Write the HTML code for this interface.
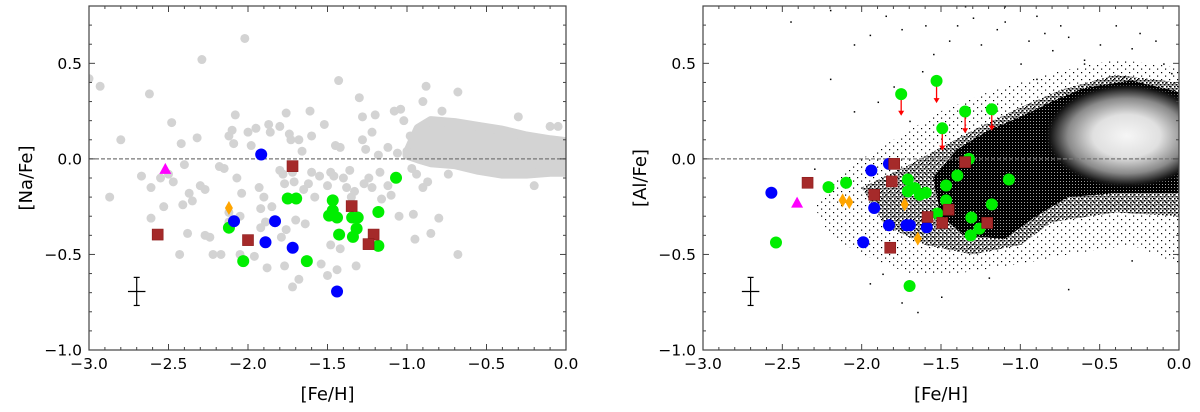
<!DOCTYPE html>
<html><head><meta charset="utf-8"><style>
body{margin:0;background:#fff;}
svg text{font-family:"DejaVu Sans","Liberation Sans",sans-serif;fill:#000;}
</style></head><body>
<svg id="fig" width="1200" height="407" viewBox="0 0 1200 407" xmlns="http://www.w3.org/2000/svg">
<defs>
<pattern id="sparse" width="8" height="7" patternUnits="userSpaceOnUse"><rect x="1" y="2" width="1.2" height="1.2" fill="#000"/><rect x="5" y="5.5" width="1.2" height="1.2" fill="#000"/></pattern>
<pattern id="mid" width="4" height="4" patternUnits="userSpaceOnUse"><rect x="0" y="0" width="1.6" height="1.6" fill="#000"/><rect x="2" y="2" width="1.6" height="1.6" fill="#000"/><rect x="2.5" y="0.3" width="1.2" height="1.2" fill="#000"/></pattern>
<pattern id="core" width="3" height="3" patternUnits="userSpaceOnUse"><rect width="3" height="3" fill="#000"/><rect x="1" y="1" width="0.8" height="0.8" fill="#fff"/></pattern>
<radialGradient id="cloud"><stop offset="0" stop-color="#f6f6f6"/><stop offset="0.4" stop-color="#e0e0e0"/><stop offset="0.7" stop-color="#8a8a8a"/><stop offset="0.9" stop-color="#1a1a1a"/><stop offset="1" stop-color="#000" stop-opacity="0"/></radialGradient>
<clipPath id="clipL"><rect x="89" y="6" width="477" height="344"/></clipPath>
<clipPath id="clipR"><rect x="703" y="6" width="476" height="344"/></clipPath>
</defs>
<g id="L" clip-path="url(#clipL)"></g>
<g id="R" clip-path="url(#clipR)"></g>
<g id="axes"></g>
</svg>
<script>
// ---- data ----
const grayX=[-3.0,-2.93,-2.8,-2.87,-2.67,-2.62,-2.61,-2.61,-2.55,-2.53,-2.48,-2.5,-2.47,-2.42,-2.4,-2.41,-2.37,-2.35,-2.38,-2.43,-2.32,-2.29,-2.3,-2.27,-2.27,-2.24,-2.22,-2.17,-2.18,-2.15,-2.12,-2.12,-2.08,-2.1,-2.12,-2.09,-2.07,-2.04,-2.05,-2.05,-2.02,-2.0,-1.98,-1.96,-1.95,-1.93,-1.92,-1.92,-1.9,-1.87,-1.86,-1.85,-1.89,-1.88,-1.8,-1.8,-1.78,-1.77,-1.76,-1.76,-1.79,-1.77,-1.74,-1.73,-1.72,-1.71,-1.7,-1.72,-1.68,-1.66,-1.68,-1.65,-1.64,-1.62,-1.61,-1.6,-1.6,-1.58,-1.55,-1.54,-1.52,-1.5,-1.5,-1.48,-1.48,-1.46,-1.45,-1.43,-1.44,-1.42,-1.42,-1.4,-1.38,-1.36,-1.35,-1.33,-1.32,-1.3,-1.28,-1.28,-1.27,-1.26,-1.24,-1.22,-1.22,-1.2,-1.18,-1.17,-1.16,-1.12,-1.12,-1.1,-1.08,-1.06,-1.05,-1.04,-1.02,-1.0,-0.98,-0.97,-0.96,-0.95,-0.9,-0.94,-0.9,-0.87,-0.85,-0.88,-0.8,-0.78,-0.68,-0.74,-0.68,-0.3,-0.1,-0.05,-0.2];
const grayY=[0.42,0.38,0.1,-0.2,-0.09,0.34,-0.15,-0.31,-0.1,-0.25,0.19,-0.08,-0.12,0.08,-0.03,-0.24,-0.18,-0.22,-0.39,-0.5,0.11,0.52,-0.14,-0.16,-0.4,-0.41,-0.5,-0.5,-0.04,-0.05,-0.28,-0.33,0.23,0.15,0.12,0.08,-0.1,-0.18,-0.3,-0.5,0.63,0.14,0.07,-0.51,0.16,-0.15,-0.26,-0.36,-0.2,0.18,0.14,-0.25,-0.33,-0.57,0.17,-0.06,-0.08,-0.13,0.24,-0.37,-0.41,-0.56,0.13,0.1,-0.07,-0.12,-0.32,-0.67,0.1,0.04,-0.63,-0.16,-0.34,-0.13,0.25,0.12,-0.07,-0.2,-0.09,-0.55,0.18,-0.14,-0.61,-0.07,-0.45,-0.09,0.07,0.41,-0.58,0.06,-0.47,-0.1,-0.15,-0.06,-0.2,-0.17,-0.56,0.32,0.22,0.1,-0.13,0.05,-0.1,0.14,-0.15,0.23,0.02,-0.07,-0.21,0.06,-0.14,-0.19,0.25,0.03,-0.3,0.26,0.2,0.04,0.12,-0.05,-0.29,-0.42,0.3,-0.08,-0.15,-0.12,-0.39,0.38,-0.31,0.25,0.35,-0.08,-0.5,0.22,0.17,0.17,-0.14];
const bandX=[-1.0,-0.93,-0.85,-0.7,-0.55,-0.4,-0.25,-0.1,0];
const bandTop=[0.03,0.16,0.2,0.19,0.17,0.15,0.12,0.1,0.09];
const bandBot=[0.02,0.0,-0.02,-0.03,-0.06,-0.08,-0.08,-0.07,-0.07];

const naBlueX=[-1.917,-2.088,-1.83,-1.89,-1.719,-1.44];
const naBlueY=[0.023,-0.326,-0.326,-0.436,-0.465,-0.694];
const naGreenX=[-2.12,-2.03,-1.75,-1.697,-1.63,-1.467,-1.467,-1.49,-1.44,-1.427,-1.34,-1.345,-1.31,-1.317,-1.18,-1.18,-1.069];
const naGreenY=[-0.36,-0.535,-0.207,-0.207,-0.535,-0.217,-0.27,-0.297,-0.307,-0.396,-0.408,-0.307,-0.307,-0.365,-0.278,-0.455,-0.099];
const naRedX=[-1.72,-2.568,-2.0,-1.348,-1.21,-1.242];
const naRedY=[-0.038,-0.396,-0.425,-0.247,-0.396,-0.446];
const naOrangeX=[-2.12]; const naOrangeY=[-0.257];
const naMagX=[-2.52]; const naMagY=[-0.052];

const alGreenX=[-1.751,-1.528,-1.348,-1.492,-1.18,-1.324,-2.209,-2.098,-1.709,-1.709,-1.665,-1.634,-1.596,-1.397,-1.468,-1.468,-1.523,-1.309,-1.258,-1.313,-1.18,-1.072,-2.54,-1.698];
const alGreenY=[0.339,0.408,0.248,0.16,0.26,0.0,-0.148,-0.125,-0.108,-0.17,-0.153,-0.188,-0.177,-0.087,-0.139,-0.217,-0.286,-0.307,-0.365,-0.4,-0.238,-0.108,-0.4375,-0.665];
const limX=[-1.751,-1.528,-1.348,-1.492,-1.18];
const limFrom=[0.339,0.408,0.248,0.16,0.26];
const limTo=[0.226,0.292,0.134,0.043,0.148];
const alBlueX=[-2.569,-1.939,-1.828,-1.921,-1.828,-1.718,-1.696,-1.59,-1.99];
const alBlueY=[-0.177,-0.061,-0.026,-0.257,-0.347,-0.347,-0.347,-0.358,-0.436];
const alRedX=[-2.341,-1.795,-1.81,-1.921,-1.585,-1.452,-1.492,-1.209,-1.82,-1.348];
const alRedY=[-0.125,-0.026,-0.118,-0.188,-0.304,-0.266,-0.335,-0.335,-0.465,-0.017];
const alOrangeX=[-2.12,-2.078,-1.729,-1.646]; const alOrangeY=[-0.217,-0.226,-0.238,-0.417];
const alMagX=[-2.407]; const alMagY=[-0.229];

const outerX=[-2.3,-2.1,-1.9,-1.7,-1.5,-1.2,-0.8,-0.4,0,0,-0.3,-0.7,-1.0,-1.4,-1.7,-2.0,-2.2];
const outerY=[-0.25,-0.05,0.05,0.15,0.25,0.35,0.45,0.52,0.48,-0.55,-0.45,-0.5,-0.55,-0.6,-0.6,-0.5,-0.4];
const midX=[-2.0,-1.7,-1.5,-1.3,-1.0,-0.75,-0.4,0,0,-0.4,-0.8,-1.0,-1.3,-1.6,-1.85];
const midY=[-0.15,-0.03,0.06,0.15,0.27,0.36,0.44,0.4,-0.3,-0.28,-0.33,-0.45,-0.5,-0.45,-0.35];
const coreX=[-1.55,-1.4,-1.2,-1.0,-0.8,-0.6,-0.3,0,0,-0.4,-0.7,-0.9,-1.1,-1.35,-1.5];
const coreY=[-0.1,0.05,0.15,0.22,0.3,0.37,0.41,0.35,-0.18,-0.18,-0.2,-0.3,-0.42,-0.4,-0.3];
const dotX=[-2.45,-2.2,-2.05,-1.95,-1.85,-1.75,-1.6,-1.55,-1.45,-1.4,-1.3,-1.25,-1.15,-1.1,-1.0,-0.95,-0.9,-0.85,-0.8,-0.75,-0.7,-0.6,-0.5,-0.4,-0.3,-0.25,-0.15,-0.05,-2.2,-2.05,-1.9,-1.8,-1.7,-1.62,-1.35,-1.1,-0.9,-0.6,-0.35,-0.1,-1.95,-1.75,-1.5,-1.2,-0.7,-0.3,-2.3,-1.87,-1.65];
const dotY=[0.72,0.78,0.6,0.65,0.75,0.68,0.7,0.55,0.62,0.7,0.74,0.6,0.68,0.72,0.5,0.62,0.75,0.66,0.57,0.7,0.64,0.52,0.6,0.7,0.58,0.66,0.62,0.45,0.42,0.25,0.3,0.38,0.2,0.46,0.8,0.8,0.42,0.5,0.43,0.5,-0.65,-0.75,-0.72,-0.62,-0.68,-0.53,-0.05,-0.6,-0.8];

// ---- helpers ----
const NS='http://www.w3.org/2000/svg';
function mk(tag,attrs,parent){const e=document.createElementNS(NS,tag);for(const k in attrs)e.setAttribute(k,attrs[k]);parent.appendChild(e);return e;}
const Y0=350,Y1=6;
function yS(v){return Y0-(v+1)/1.8*(Y0-Y1);}
function xL(v){return 89+(v+3)/3*477;}
function xR(v){return 703+(v+3)/3*476;}
const gL=document.getElementById('L'), gR=document.getElementById('R'), gA=document.getElementById('axes');

function circles(g,xs,ys,xf,fill,r,name){xs.forEach((x,i)=>{const c=mk('circle',{cx:xf(x),cy:yS(ys[i]),r:r,fill:fill},g);

});}
function squares(g,xs,ys,xf,name){xs.forEach((x,i)=>{const s=mk('rect',{x:xf(x)-5.5,y:yS(ys[i])-5.5,width:11,height:11,fill:'#a52a2a',stroke:'#8b1a1a','stroke-width':0.6},g);

});}
function diamonds(g,xs,ys,xf,name){xs.forEach((x,i)=>{const px=xf(x),py=yS(ys[i]);const d=mk('polygon',{points:`${px},${py-7} ${px+4},${py} ${px},${py+7} ${px-4},${py}`,fill:'#ffa500'},g);

});}
function tris(g,xs,ys,xf,name){xs.forEach((x,i)=>{const px=xf(x),py=yS(ys[i]);const t=mk('polygon',{points:`${px},${py-6} ${px+6},${py+5} ${px-6},${py+5}`,fill:'#ff00ff'},g);

});}
function poly(g,xs,ys,xf,fill,name,extra){const a={points:xs.map((x,i)=>xf(x)+','+yS(ys[i])).join(' '),fill:fill};Object.assign(a,extra||{});const p=mk('polygon',a,g);

}
function errbar(g,xf){const cx=xf(-2.7),cy=yS(-0.694);
mk('line',{x1:xf(-2.755),x2:xf(-2.645),y1:cy,y2:cy,stroke:'#000','stroke-width':1.2},g);
mk('line',{x1:cx,x2:cx,y1:yS(-0.62),y2:yS(-0.767),stroke:'#000','stroke-width':1.2},g);
mk('line',{x1:cx-3,x2:cx+3,y1:yS(-0.62),y2:yS(-0.62),stroke:'#000','stroke-width':1.2},g);
mk('line',{x1:cx-3,x2:cx+3,y1:yS(-0.767),y2:yS(-0.767),stroke:'#000','stroke-width':1.2},g);}
function zero(g,xf){const l=mk('line',{x1:xf(-3),x2:xf(0),y1:yS(0),y2:yS(0),stroke:'#777','stroke-width':1.2,'stroke-dasharray':'4,2'},g);

}

// ---- left panel ----
poly(gL,bandX.concat(bandX.slice().reverse()),bandTop.concat(bandBot.slice().reverse()),xL,'#d3d3d3','comparison-band',{stroke:'#d3d3d3','stroke-width':9,'stroke-linejoin':'round'});
circles(gL,grayX,grayY,xL,'#d3d3d3',4.5,'comparison-star');
zero(gL,xL);
circles(gL,naGreenX,naGreenY,xL,'#00ee00',6,'green-star');
circles(gL,naBlueX,naBlueY,xL,'#0000ff',6,'blue-star');
squares(gL,naRedX,naRedY,xL,'red-square-star');
diamonds(gL,naOrangeX,naOrangeY,xL,'orange-diamond-star');
tris(gL,naMagX,naMagY,xL,'magenta-triangle-star');
errbar(gL,xL);

// ---- right panel ----
poly(gR,outerX,outerY,xR,'url(#sparse)','field-density-outer');
poly(gR,midX,midY,xR,'url(#mid)','field-density-mid');
poly(gR,coreX,coreY,xR,'url(#core)','field-density-core');
const cl=mk('ellipse',{cx:xR(-0.33),cy:yS(0.12),rx:(xR(0.2)-xR(-0.33)),ry:(yS(-0.16)-yS(0.12)),fill:'url(#cloud)'},gR);


dotX.forEach((x,i)=>{const d=mk('rect',{x:xR(x),y:yS(dotY[i]),width:1.5,height:1.5,fill:'#000'},gR);

});
zero(gR,xR);
limX.forEach((x,i)=>{const px=xR(x),y1=yS(limFrom[i]),y2=yS(limTo[i]);
const a=mk('g',{},gR);


mk('line',{x1:px,x2:px,y1:y1,y2:y2-4,stroke:'#ff0000','stroke-width':1.3},a);
mk('polygon',{points:`${px-3},${y2-5} ${px+3},${y2-5} ${px},${y2}`,fill:'#ff0000'},a);});
circles(gR,alGreenX,alGreenY,xR,'#00ee00',6,'green-star');
circles(gR,alBlueX,alBlueY,xR,'#0000ff',6,'blue-star');
squares(gR,alRedX,alRedY,xR,'red-square-star');
diamonds(gR,alOrangeX,alOrangeY,xR,'orange-diamond-star');
tris(gR,alMagX,alMagY,xR,'magenta-triangle-star');
errbar(gR,xR);

// ---- axes ----
const xTicks=[-3.0,-2.5,-2.0,-1.5,-1.0,-0.5,0.0];
const xTickLabels=['\u22123.0','\u22122.5','\u22122.0','\u22121.5','\u22121.0','\u22120.5','0.0'];
const yTicks=[0.5,0.0,-0.5,-1.0];
const yTickLabels=['0.5','0.0','\u22120.5','\u22121.0'];
function axes(xf,x0,x1,ylabel,name){
const g=mk('g',{},gA);


mk('rect',{x:x0,y:Y1,width:x1-x0,height:Y0-Y1,fill:'none',stroke:'#444','stroke-width':1.2},g);
for(let k=-30;k<=0;k++){const v=k/10,px=xf(v),maj=(k%5===0),len=maj?6:3;
mk('line',{x1:px,x2:px,y1:Y0,y2:Y0-len,stroke:'#444','stroke-width':1},g);
mk('line',{x1:px,x2:px,y1:Y1,y2:Y1+len,stroke:'#444','stroke-width':1},g);}
for(let k=-10;k<=8;k++){const v=k/10,py=yS(v),maj=(k%5===0),len=maj?6:3;
mk('line',{x1:x0,x2:x0+len,y1:py,y2:py,stroke:'#444','stroke-width':1},g);
mk('line',{x1:x1,x2:x1-len,y1:py,y2:py,stroke:'#444','stroke-width':1},g);}
xTicks.forEach((v,i)=>{const t=mk('text',{x:xf(v),y:Y0+19,'font-size':15.5,'text-anchor':'middle'},g);t.textContent=xTickLabels[i];

});
yTicks.forEach((v,i)=>{const t=mk('text',{x:x0-7,y:yS(v)+5.5,'font-size':15.5,'text-anchor':'end'},g);t.textContent=yTickLabels[i];

});
const xl=mk('text',{x:(x0+x1)/2,y:400,'font-size':18,'text-anchor':'middle'},g);xl.textContent='[Fe/H]';


const yl=mk('text',{x:0,y:0,'font-size':18,'text-anchor':'middle',transform:`translate(${x0-57},${(Y0+Y1)/2}) rotate(-90)`},g);yl.textContent=ylabel;

}
axes(xL,89,566,'[Na/Fe]','na-fe-axes');
axes(xR,703,1179,'[Al/Fe]','al-fe-axes');
</script>
</body></html>
